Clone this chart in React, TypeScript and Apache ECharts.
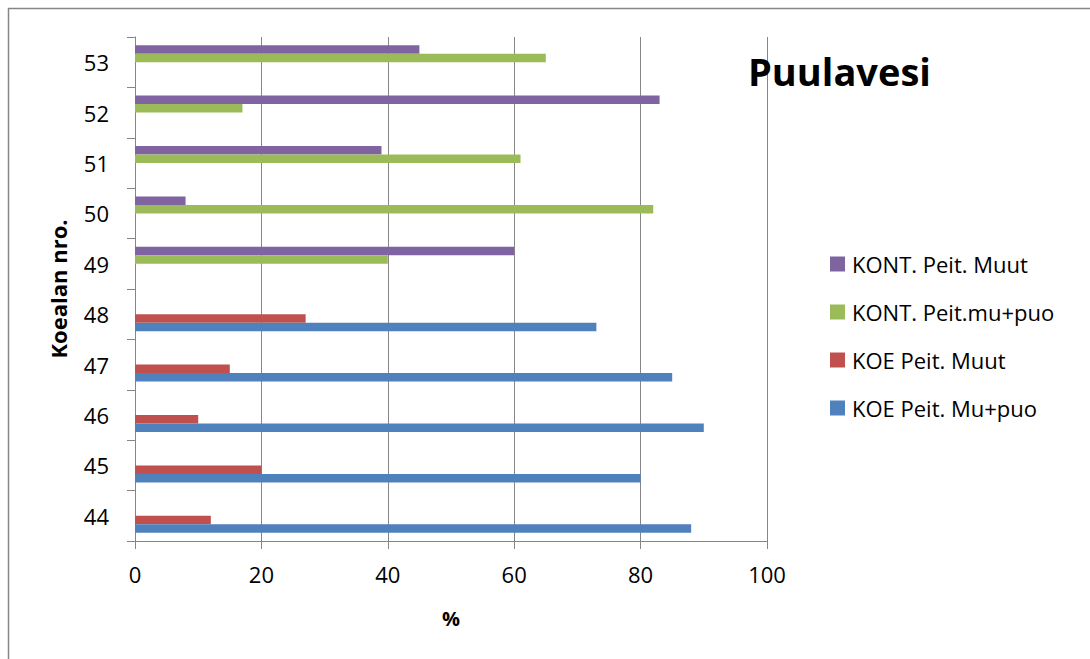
import React, { useEffect, useRef } from "react";
import * as echarts from "echarts";

const categories = ["44", "45", "46", "47", "48", "49", "50", "51", "52", "53"];
const koeMuPuo = [88, 80, 90, 85, 73, null, null, null, null, null];
const koeMuut = [12, 20, 10, 15, 27, null, null, null, null, null];
const kontMuPuo = [null, null, null, null, null, 40, 82, 61, 17, 65];
const kontMuut = [null, null, null, null, null, 60, 8, 39, 83, 45];
const seriesNames = ["KOE Peit. Mu+puo", "KOE Peit. Muut", "KONT. Peit.mu+puo", "KONT. Peit. Muut"];
const seriesColors = ["#4F81BD", "#C0504D", "#9BBB59", "#8064A2"];
const xTicks = { min: 0, max: 100, interval: 20 };

const FONT = "'Open Sans', 'Noto Sans', sans-serif";

export default function App() {
  const ref = useRef<HTMLDivElement>(null);
  useEffect(() => {
    document.body.style.margin = "0";
    const chart = echarts.init(ref.current!, null, { renderer: "svg" });
    const data = [koeMuPuo, koeMuut, kontMuPuo, kontMuut];
    const order = [3, 2, 1, 0];
    chart.setOption({
      animation: false,
      backgroundColor: "#ffffff",
      textStyle: { fontFamily: FONT },
      title: {
        text: "Puulavesi",
        left: 748,
        top: 52,
        padding: 0,
        textStyle: { fontFamily: FONT, fontWeight: "bold", fontSize: 38, color: "#000" },
      },
      legend: {
        orient: "vertical",
        left: 830,
        top: 251,
        itemWidth: 15,
        itemHeight: 15,
        itemGap: 22,
        padding: 0,
        icon: "rect",
        data: order.map((i) => seriesNames[i]),
        textStyle: { fontFamily: FONT, fontSize: 22, color: "#000", lineHeight: 26, padding: [0, 0, 0, 2] },
      },
      grid: { left: 135, right: 323, top: 37, bottom: 118, containLabel: false },
      xAxis: {
        type: "value",
        min: xTicks.min,
        max: xTicks.max,
        interval: xTicks.interval,
        name: "%",
        nameLocation: "middle",
        nameGap: 67,
        nameTextStyle: { fontFamily: FONT, fontWeight: "bold", fontSize: 20, color: "#000" },
        axisLine: { show: true, lineStyle: { color: "#868686", width: 1 } },
        axisTick: { show: true, length: 8, lineStyle: { color: "#868686" } },
        axisLabel: { fontFamily: FONT, fontSize: 22, color: "#000", margin: 22 },
        splitLine: { show: true, lineStyle: { color: "#868686", width: 1 } },
      },
      yAxis: {
        type: "category",
        data: categories,
        name: "Koealan nro.",
        nameLocation: "middle",
        nameRotate: 90,
        nameGap: 66,
        nameTextStyle: { fontFamily: FONT, fontWeight: "bold", fontSize: 22, color: "#000" },
        axisLine: { show: true, lineStyle: { color: "#868686", width: 1 } },
        axisTick: { show: true, length: 8, lineStyle: { color: "#868686" } },
        axisLabel: { fontFamily: FONT, fontSize: 22, color: "#000", margin: 26 },
        splitLine: { show: false },
      },
      graphic: [
        {
          type: "rect",
          shape: { x: 8.5, y: 8.5, width: 1200, height: 800 },
          style: { fill: "none", stroke: "#868686", lineWidth: 1.5 },
          silent: true,
        },
      ],
      series: order.map((i) => ({
        name: seriesNames[i],
        type: "bar",
        data: data[i],
        barWidth: 8.5,
        barGap: "0%",
        itemStyle: { color: seriesColors[i] },
      })),
    });
    return () => chart.dispose();
  }, []);
  return <div ref={ref} style={{ width: 1090, height: 659 }} />;
}
